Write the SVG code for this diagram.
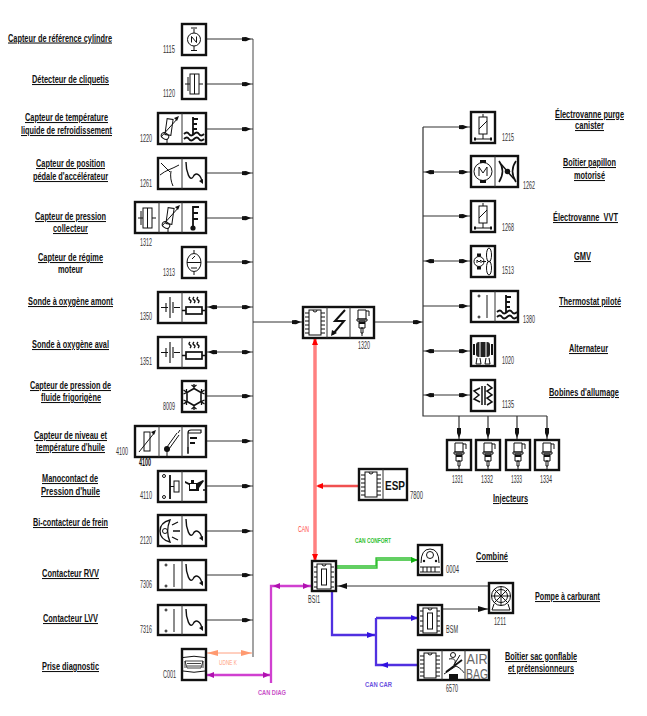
<svg xmlns="http://www.w3.org/2000/svg" width="647" height="716" viewBox="0 0 647 716">
<style>
text{font-family:"Liberation Sans",Arial,sans-serif}
.l{font-size:10.500px;font-weight:bold;fill:#111;text-decoration:underline}
.lp{font-size:10.500px;font-weight:bold;fill:#111}
.n{font-size:10px;fill:#333}
.c{font-size:7px;font-weight:bold}
.b{fill:#fff;stroke:#111;stroke-width:2.400}
.d{fill:none;stroke:#333;stroke-width:1}
.i{fill:none;stroke:#111;stroke-width:1}
.t{fill:none;stroke:#111;stroke-width:1.800}
.k{fill:#111;stroke:none}
.w{fill:none;stroke:#333;stroke-width:1}
.g{fill:none;stroke:#999;stroke-width:1.800}
</style>
<defs>
<path id="ar" d="M-9-1.800L-5-2L0 0L-5 2.200L-9 2Z"/>
<path id="al" d="M9-1.800L5-2L0 0L5 2.200L9 2Z"/>
<path id="ad" d="M-2-10V-5L0 0L2-5V-10Z"/>
<g id="sN" class="i"><circle cx="12" cy="15.500" r="6.500"/><path d="M9.500 18.500v-6l5 6v-6M12 9V5M9 4h6M12 22v4M9 26.500h6"/></g>
<g id="sKnock" class="i"><rect x="8" y="6" width="9" height="20"/><path d="M3 16h5M17 16h4M6 9v14M12.500 6v20"/></g>
<g id="sVar" class="i"><rect x="8" y="6" width="6" height="16" transform="rotate(8 11 14)"/><path d="M3 24L20 5"/><path class="k" d="M21 3l-5 2 3 3z"/><ellipse cx="7" cy="23" rx="4" ry="3" transform="rotate(35 7 23)"/><path d="M9 26v4"/></g>
<g id="sCool" class="i"><path class="t" d="M11 4v18M11 6h5M11 11h4M11 16h4"/><path class="t" d="M2 21q3-3 5 0t5 0t5 0t5 0M2 26q3-3 5 0t5 0t5 0t5 0"/></g>
<g id="sTherm" class="i"><path class="t" d="M11 4v22M11 5h6M11 11h5M11 17h5"/><circle class="k" cx="11" cy="26" r="2.600"/></g>
<g id="sHook"><path d="M4 4C4 14 8 24 11 19C14 13 19 17 20 24" fill="none" stroke="#111" stroke-width="1.400"/><path class="k" d="M21 26l-4-3 4-2z"/></g>
<g id="sPedal" class="i"><path d="M3 5L12 14M2 17C8 12 14 11 21 7M13 13C12 18 13 24 15 28"/></g>
<g id="sLambda" class="i"><path d="M3 15.500h7M16 15.500h6M12 5v21M15 10v11M8 11v9" stroke-width="1.100"/></g>
<g id="sHeat" class="i"><rect x="4" y="15" width="16" height="7" stroke-width="1.700"/><path d="M0 18.500h4M20 18.500h4M8 5q-2 2 0 3t0 3M12 5q-2 2 0 3t0 3M16 5q-2 2 0 3t0 3" stroke-width="1.400"/></g>
<g id="sRev" class="i"><ellipse cx="12" cy="15.500" rx="7" ry="9"/><path d="M5 15.500h14M12 3v3M12 25v3M9 21h6M10 12l3-3"/></g>
<g id="sFrost" class="t"><path d="M12 7.500l7 4v9l-7 4-7-4v-9z" stroke-width="1.600"/><path d="M12 7.500V3M9.500 4l2.500 2 2.500-2M12 24.500V29M9.500 28l2.500-2 2.500 2M5 11.500L1.500 9M1.500 13l3-1.500V8M19 11.500L22.500 9M22.500 13l-3-1.500V8M5 20.500L1.500 23M1.500 19l3 1.500V24M19 20.500L22.500 23M22.500 19l-3 1.500V24" stroke-width="1.300"/></g>
<g id="sVarStr" class="i"><rect x="9" y="6" width="6" height="19"/><path d="M4 26L20 6"/><path class="k" d="M21 4l-5 2 3 3z"/></g>
<g id="sBulb" class="i"><path d="M8 21L18 7M10 23L20 9"/><circle class="k" cx="8" cy="23" r="3"/><path d="M8 25v5M21 4l-2 3"/></g>
<g id="sLevel" class="i"><path d="M6 28V7H19M6 7Q6 4 9 4H19V7" stroke-width="1.200"/><path class="t" d="M8 12h7M8 17h5"/><path d="M6 21v6"/></g>
<g id="sMano" class="i"><circle cx="6" cy="5" r="1.500"/><circle cx="6" cy="26" r="1.500"/><path class="t" d="M12 4v24"/><rect x="16" y="10" width="5" height="11"/><path d="M12 15.500h4"/></g>
<g id="sOil"><path class="k" d="M3 10l4 2h8l6-3 1 1-5 7v3H7v-6L3 12z"/><path d="M8 13h6v5H8z" fill="#fff"/><circle class="k" cx="22" cy="19" r="1"/><path class="k" d="M9 9h3v3H9z"/></g>
<g id="sBrake" class="i"><path d="M12 5C4 7 2 12 2 16s2 9 10 11C9 20 9 12 12 5z" stroke-width="1.300"/><circle cx="7" cy="16" r="2.500"/><path d="M14 10l6-3M15 16h7M14 22l6 3" stroke-width="1.300"/></g>
<g id="sDots" class="i"><circle cx="8" cy="5" r="1"/><circle cx="8" cy="26" r="1"/><path d="M16 4v23" style="stroke:#666;stroke-width:1.500"/></g>
<g id="sPort" class="i"><path d="M1 3.500Q12 1 23 3.500M1 17Q12 19.500 23 17"/><path d="M3 7h18l-2 7H5zM3 7V14M21 7V14M5 9.500h14M5 12h14" stroke-width=".8"/></g>
<g id="sChip" class="i"><rect x="6" y="3" width="12" height="25"/><path d="M2 6h4M2 10h4M2 14h4M2 18h4M2 22h4M2 26h4M18 6h4M18 10h4M18 14h4M18 18h4M18 22h4M18 26h4M10 3a2 2 0 0 0 4 0"/></g>
<g id="sBolt"><path d="M18 3L8 14H17L6 27" fill="none" stroke="#111" stroke-width="2"/><path class="k" d="M4 29l1-6 5 3z"/></g>
<g id="sInj" class="i"><path d="M8 3h8v9h-8zM7 12h10v2h-10zM9 14h6v7h-6zM11 21h2v5h-2zM12 26v3M16 4h3v5"/><path class="k" d="M9 15h6v2H9z"/></g>
<g id="sCoil" class="i"><rect x="8" y="3" width="8" height="17"/><path d="M8 15L16 7M12 3V0M12 20v5M4 25h16"/><path class="k" d="M3 23.500h2v3H3zM19 23.500h2v3h-2z"/></g>
<g id="sMotor" class="i"><circle cx="12" cy="15.500" r="9"/><path d="M8 20v-9l4 6 4-6v9"/><path class="k" d="M9 4h6v3H9zM9 24h6v3H9z"/></g>
<g id="sThrottle" class="i"><path d="M4 5Q11 15 4 26M21 5Q14 15 21 26" stroke-width="1.600"/><path d="M6 8L19 23" stroke-width="1.400"/><circle class="k" cx="12.500" cy="15.500" r="2.800"/></g>
<g id="sFan" class="i"><circle cx="8" cy="15.500" r="5"/><path d="M6 17v-3l2 2 2-2v3M11 15.500h4"/><path class="k" d="M6 7.500h4v3H6zM6 20.500h4v3H6z"/><ellipse cx="18" cy="9" rx="2.500" ry="7"/><ellipse cx="18" cy="22" rx="2.500" ry="7"/></g>
<g id="sAlt"><rect x="5" y="6" width="14" height="15" rx="3" fill="#222"/><path d="M9 6v15M15 6v15M3 8v11M21 8v11" stroke="#fff" stroke-width="1"/><path d="M3 8v11M21 8v11" stroke="#111" stroke-width="2"/><path class="i" d="M6 22l-1 6h5l-1-6M15 22l-1 6h5l-1-6"/></g>
<g id="sIgn" class="t"><path d="M9 8L3 11l5 4-5 4 6 3M11 6v19M14 6v19M16 4l5 4-5 3 5 4-5 3 5 4-5 3" stroke-width="1.500"/></g>
<g id="sGauge" class="i"><circle cx="12" cy="10" r="3.500"/><path d="M3 18Q3 4 12 4T21 18M2 22h20M2 27h20M5 22v5M9 22v5M13 22v5M17 22v5"/><circle class="k" cx="6" cy="16" r="1.200"/><circle class="k" cx="18" cy="16" r="1.200"/></g>
<g id="sPump" class="i"><circle cx="12" cy="13" r="9.500"/><circle cx="12" cy="13" r="6.500"/><path d="M2.500 13h19M12 3.500v19M5 6l14 14M19 6L5 20M5 21l-2 6h18l-2-6"/></g>
<g id="sMod" class="i"><rect x="5" y="3" width="14" height="25"/><rect x="9.500" y="8" width="5" height="16"/><path d="M2 6h3M2 11h3M2 16h3M2 21h3M2 26h3M19 6h3M19 11h3M19 16h3M19 21h3M19 26h3M10 3a2 2 0 0 0 4 0"/></g>
<g id="sBelt" class="i"><circle cx="11" cy="5" r="2.500"/><path d="M7 9C12 8 15 10 12 15L18 5M2 24L14 16C20 19 22 23 22 23"/><path class="t" d="M4 22L20 10"/><path class="k" d="M7 24h9v5H7z"/></g>
<g id="sAir"><text x="12" y="14" text-anchor="middle" style="font-size:15px;fill:#666" textLength="21" lengthAdjust="spacingAndGlyphs">AIR</text><text x="12" y="29" text-anchor="middle" style="font-size:15px;fill:#666" textLength="22" lengthAdjust="spacingAndGlyphs">BAG</text></g>
</defs>

<g id="connectors">
<path class="g" d="M253 39V657"/>
<path class="d" d="M206 39H253M206 84H253M206 129H253M206 173H253M206 218H253M206 262H253M206 307H253M206 352H253M206 396H253M206 441H253M206 486H253M206 531H253M206 575H253M206 620H253"/>
<path class="d" d="M253 322H303M374 322H423"/>
<path class="d" style="stroke-width:1.200" d="M423 127V416H547M423 127H470M423 172H470M423 216H470M423 261H470M423 306H470M423 351H470M423 395H470M459 416V440M488 416V440M517 416V440M547 416V440"/>
<g class="k">
<use href="#ar" x="251" y="39"/><use href="#ar" x="251" y="84"/><use href="#ar" x="251" y="129"/><use href="#ar" x="251" y="173"/><use href="#ar" x="251" y="218"/><use href="#ar" x="251" y="262"/><use href="#ar" x="251" y="307"/><use href="#ar" x="251" y="352"/><use href="#ar" x="251" y="396"/><use href="#ar" x="251" y="441"/><use href="#ar" x="251" y="486"/><use href="#ar" x="251" y="531"/><use href="#ar" x="251" y="575"/><use href="#ar" x="251" y="620"/>
<use href="#al" x="208" y="307"/><use href="#al" x="208" y="352"/>
<use href="#ar" x="301" y="322"/><use href="#ar" x="422" y="322"/>
<use href="#ar" x="468" y="127"/><use href="#ar" x="468" y="172"/><use href="#ar" x="468" y="216"/><use href="#ar" x="468" y="261"/><use href="#ar" x="468" y="306"/><use href="#ar" x="468" y="351"/><use href="#ar" x="468" y="395"/>
<use href="#al" x="425" y="172"/><use href="#al" x="425" y="261"/><use href="#al" x="425" y="351"/><use href="#al" x="425" y="395"/>
<use href="#ad" x="459" y="438"/><use href="#ad" x="488" y="438"/><use href="#ad" x="517" y="438"/><use href="#ad" x="547" y="438"/>
</g>
<path d="M315 338V561" fill="none" stroke="#ff8080" stroke-width="3.500"/>
<path d="M359 486H318" fill="none" stroke="#f05050" stroke-width="2.500"/>
<path d="M315 338l-3 7h6zM315 561l-3-7h6zM316 486l7-3v6z" fill="#f00"/>
<path d="M336 568H377V560H418M336 566H376V558H412" fill="none" stroke="#30c030" stroke-width="1.300"/>
<path d="M418 560l-7-3v6z" fill="#10b010"/>
<path d="M332 591V635H375M376 618V665H418M376 618H418" fill="none" stroke="#5030e0" stroke-width="2.300"/>
<path d="M375 635l-8-3v6zM418 618l-7-3v6zM380 665l8-3v6z" fill="#3010e0"/>
<path d="M206 675H271M271 683V586H312" fill="none" stroke="#d040d0" stroke-width="2.300"/>
<path d="M207 675l7-3v6zM270 675l-7-3v6zM273 586l7-3v6zM310 586l-7-3v6z" fill="#b010b0"/>
<path d="M206 653H252" fill="none" stroke="#ffa080" stroke-width="1"/>
<path d="M207 653l11-3v6zM252 653l-11-3v6z" fill="#ff9a70"/>
<path class="d" d="M337 586H489M442 609H489"/>
<path d="M338 586l9-3v6zM488 609l-10-3v6z" fill="#111"/>
</g>

<g id="n1115"><rect class="b" x="182" y="24" width="24" height="31"/><use href="#sN" x="182" y="24"/></g>
<g id="n1120"><rect class="b" x="182" y="68" width="24" height="31"/><use href="#sKnock" x="182" y="68"/></g>
<g id="n1220"><rect class="b" x="158" y="113" width="48" height="31"/><path class="w" d="M182 113v31"/><use href="#sVar" x="158" y="113"/><use href="#sCool" x="182" y="113"/></g>
<g id="n1261"><rect class="b" x="158" y="158" width="48" height="31"/><path class="w" d="M182 158v31"/><use href="#sPedal" x="158" y="158"/><use href="#sHook" x="182" y="158"/></g>
<g id="n1312"><rect class="b" x="135" y="202" width="71" height="31"/><path class="w" d="M159 202v31M182 202v31"/><use href="#sKnock" x="135" y="202"/><use href="#sVar" x="159" y="202"/><use href="#sTherm" x="182" y="202"/></g>
<g id="n1313"><rect class="b" x="182" y="247" width="24" height="31"/><use href="#sRev" x="182" y="247"/></g>
<g id="n1350"><rect class="b" x="158" y="292" width="48" height="31"/><path class="w" d="M182 292v31"/><use href="#sLambda" x="158" y="292"/><use href="#sHeat" x="182" y="292"/></g>
<g id="n1351"><rect class="b" x="158" y="337" width="48" height="31"/><path class="w" d="M182 337v31"/><use href="#sLambda" x="158" y="337"/><use href="#sHeat" x="182" y="337"/></g>
<g id="n8009"><rect class="b" x="182" y="381" width="24" height="31"/><use href="#sFrost" x="182" y="381"/></g>
<g id="n4100"><rect class="b" x="135" y="426" width="71" height="31"/><path class="w" d="M159 426v31M182 426v31"/><use href="#sVarStr" x="135" y="426"/><use href="#sBulb" x="159" y="426"/><use href="#sLevel" x="182" y="426"/></g>
<g id="n4110"><rect class="b" x="158" y="471" width="48" height="31"/><path class="w" d="M182 471v31"/><use href="#sMano" x="158" y="471"/><use href="#sOil" x="182" y="471"/></g>
<g id="n2120"><rect class="b" x="158" y="515" width="48" height="31"/><path class="w" d="M182 515v31"/><use href="#sBrake" x="158" y="515"/><use href="#sHook" x="182" y="515"/></g>
<g id="n7306"><rect class="b" x="158" y="560" width="48" height="30"/><path class="w" d="M182 560v30"/><use href="#sDots" x="158" y="560"/><use href="#sHook" x="182" y="560"/></g>
<g id="n7316"><rect class="b" x="158" y="605" width="48" height="30"/><path class="w" d="M182 605v30"/><use href="#sDots" x="158" y="605"/><use href="#sHook" x="182" y="605"/></g>
<g id="nC001"><rect class="b" x="182" y="649" width="24" height="31"/><use href="#sPort" x="182" y="654"/></g>
<g id="n1320"><rect class="b" x="303" y="307" width="71" height="31"/><path class="w" d="M327 307v31M350 307v31"/><use href="#sChip" x="303" y="307"/><use href="#sBolt" x="327" y="307"/><use href="#sInj" x="350" y="307"/></g>
<g id="n7800"><rect class="b" x="359" y="469" width="48" height="31"/><path class="w" d="M383 469v31"/><use href="#sChip" x="359" y="469"/><text x="385" y="490" style="font-size:13px;font-weight:bold;fill:#111" textLength="20" lengthAdjust="spacingAndGlyphs">ESP</text></g>
<g id="nBSI"><rect class="b" x="312" y="561" width="24" height="30"/><use href="#sMod" x="312" y="561"/></g>
<g id="nCombine"><rect class="b" x="418" y="545" width="24" height="30"/><use href="#sGauge" x="418" y="545"/></g>
<g id="n1211"><rect class="b" x="489" y="583" width="24" height="30"/><use href="#sPump" x="489" y="583"/></g>
<g id="nBSM"><rect class="b" x="418" y="605" width="24" height="30"/><use href="#sMod" x="418" y="605"/></g>
<g id="n6570"><rect class="b" x="418" y="650" width="71" height="30"/><path class="w" d="M442 650v30M465 650v30"/><use href="#sChip" x="418" y="650"/><use href="#sBelt" x="442" y="650"/><use href="#sAir" x="465" y="650"/></g>
<g id="n1215"><rect class="b" x="471" y="112" width="24" height="31"/><use href="#sCoil" x="471" y="114"/></g>
<g id="n1262"><rect class="b" x="471" y="156" width="47" height="31"/><path class="w" d="M495 156v31"/><use href="#sMotor" x="471" y="156"/><use href="#sThrottle" x="495" y="156"/></g>
<g id="n1268"><rect class="b" x="471" y="201" width="24" height="31"/><use href="#sCoil" x="471" y="203"/></g>
<g id="n1513"><rect class="b" x="471" y="246" width="24" height="31"/><use href="#sFan" x="471" y="246"/></g>
<g id="n1380"><rect class="b" x="471" y="291" width="47" height="31"/><path class="w" d="M495 291v31"/><use href="#sDots" x="471" y="291"/><use href="#sCool" x="495" y="291"/></g>
<g id="n1020"><rect class="b" x="471" y="336" width="24" height="30"/><use href="#sAlt" x="471" y="336"/></g>
<g id="n1135"><rect class="b" x="471" y="380" width="24" height="31"/><use href="#sIgn" x="471" y="380"/></g>
<g id="n1331"><rect class="b" x="447" y="440" width="24" height="30"/><use href="#sInj" x="447" y="440"/></g>
<g id="n1332"><rect class="b" x="476" y="440" width="24" height="30"/><use href="#sInj" x="476" y="440"/></g>
<g id="n1333"><rect class="b" x="506" y="440" width="24" height="30"/><use href="#sInj" x="506" y="440"/></g>
<g id="n1334"><rect class="b" x="535" y="440" width="24" height="30"/><use href="#sInj" x="535" y="440"/></g>

<g id="labels">
<text class="l" x="8" y="41.500" textLength="104" lengthAdjust="spacingAndGlyphs">Capteur de référence cylindre</text>
<text class="l" x="32" y="83" textLength="77" lengthAdjust="spacingAndGlyphs">Détecteur de cliquetis</text>
<text class="l" x="25" y="121" textLength="83" lengthAdjust="spacingAndGlyphs">Capteur de température</text>
<text class="l" x="21" y="134" textLength="91" lengthAdjust="spacingAndGlyphs">liquide de refroidissement</text>
<text class="l" x="36" y="167" textLength="69" lengthAdjust="spacingAndGlyphs">Capteur de position</text>
<text class="l" x="33" y="180" textLength="75" lengthAdjust="spacingAndGlyphs">pédale d'accélérateur</text>
<text class="l" x="35" y="220" textLength="71" lengthAdjust="spacingAndGlyphs">Capteur de pression</text>
<text class="l" x="53" y="232" textLength="35" lengthAdjust="spacingAndGlyphs">collecteur</text>
<text class="l" x="38" y="261" textLength="65" lengthAdjust="spacingAndGlyphs">Capteur de régime</text>
<text class="lp" x="58" y="273" textLength="25" lengthAdjust="spacingAndGlyphs">moteur</text>
<text class="l" x="28" y="305" textLength="85" lengthAdjust="spacingAndGlyphs">Sonde à oxygène amont</text>
<text class="l" x="32" y="348" textLength="77" lengthAdjust="spacingAndGlyphs">Sonde à oxygène aval</text>
<text class="l" x="30" y="389" textLength="81" lengthAdjust="spacingAndGlyphs">Capteur de pression de</text>
<text class="l" x="41" y="401" textLength="60" lengthAdjust="spacingAndGlyphs">fluide frigorigène</text>
<text class="l" x="34" y="439" textLength="73" lengthAdjust="spacingAndGlyphs">Capteur de niveau et</text>
<text class="l" x="36" y="451" textLength="69" lengthAdjust="spacingAndGlyphs">température d'huile</text>
<text class="l" x="42" y="482" textLength="56" lengthAdjust="spacingAndGlyphs">Manocontact de</text>
<text class="l" x="41" y="495" textLength="59" lengthAdjust="spacingAndGlyphs">Pression d'huile</text>
<text class="l" x="33" y="526" textLength="75" lengthAdjust="spacingAndGlyphs">Bi-contacteur de frein</text>
<text class="l" x="42" y="577" textLength="57" lengthAdjust="spacingAndGlyphs">Contacteur RVV</text>
<text class="l" x="43" y="622" textLength="55" lengthAdjust="spacingAndGlyphs">Contacteur LVV</text>
<text class="l" x="42" y="670" textLength="57" lengthAdjust="spacingAndGlyphs">Prise diagnostic</text>
<text class="l" x="555" y="118" textLength="69" lengthAdjust="spacingAndGlyphs">Électrovanne purge</text>
<text class="l" x="575" y="129" textLength="29" lengthAdjust="spacingAndGlyphs">canister</text>
<text class="l" x="563" y="166" textLength="53" lengthAdjust="spacingAndGlyphs">Boîtier papillon</text>
<text class="l" x="574" y="179" textLength="31" lengthAdjust="spacingAndGlyphs">motorisé</text>
<text class="l" x="553" y="221" textLength="65" lengthAdjust="spacingAndGlyphs" xml:space="preserve">Électrovanne  VVT</text>
<text class="l" x="574" y="260" textLength="17" lengthAdjust="spacingAndGlyphs">GMV</text>
<text class="l" x="559" y="305" textLength="62" lengthAdjust="spacingAndGlyphs">Thermostat piloté</text>
<text class="l" x="569" y="352" textLength="39" lengthAdjust="spacingAndGlyphs">Alternateur</text>
<text class="l" x="549" y="396" textLength="70" lengthAdjust="spacingAndGlyphs">Bobines d'allumage</text>
<text class="l" x="493" y="502" textLength="35" lengthAdjust="spacingAndGlyphs">Injecteurs</text>
<text class="l" x="476" y="560" textLength="32" lengthAdjust="spacingAndGlyphs">Combiné</text>
<text class="l" x="535" y="600" textLength="65" lengthAdjust="spacingAndGlyphs">Pompe à carburant</text>
<text class="l" x="505" y="660" textLength="72" lengthAdjust="spacingAndGlyphs">Boîtier sac gonflable</text>
<text class="l" x="508" y="672" textLength="66" lengthAdjust="spacingAndGlyphs">et prétensionneurs</text>

<text class="n" x="163" y="53" textLength="12" lengthAdjust="spacingAndGlyphs">1115</text>
<text class="n" x="163" y="97" textLength="12" lengthAdjust="spacingAndGlyphs">1120</text>
<text class="n" x="140" y="142" textLength="12" lengthAdjust="spacingAndGlyphs">1220</text>
<text class="n" x="140" y="187" textLength="12" lengthAdjust="spacingAndGlyphs">1261</text>
<text class="n" x="140" y="246" textLength="12" lengthAdjust="spacingAndGlyphs">1312</text>
<text class="n" x="163" y="276" textLength="12" lengthAdjust="spacingAndGlyphs">1313</text>
<text class="n" x="140" y="320" textLength="12" lengthAdjust="spacingAndGlyphs">1350</text>
<text class="n" x="140" y="365" textLength="12" lengthAdjust="spacingAndGlyphs">1351</text>
<text class="n" x="163" y="410" textLength="12" lengthAdjust="spacingAndGlyphs">8009</text>
<text class="n" x="116" y="455" textLength="12" lengthAdjust="spacingAndGlyphs">4100</text>
<text class="n" x="139" y="466" textLength="12" lengthAdjust="spacingAndGlyphs" style="font-weight:bold;fill:#111">4100</text>
<text class="n" x="140" y="499" textLength="12" lengthAdjust="spacingAndGlyphs">4110</text>
<text class="n" x="140" y="544" textLength="12" lengthAdjust="spacingAndGlyphs">2120</text>
<text class="n" x="140" y="588" textLength="12" lengthAdjust="spacingAndGlyphs">7306</text>
<text class="n" x="140" y="633" textLength="12" lengthAdjust="spacingAndGlyphs">7316</text>
<text class="n" x="163" y="678" textLength="13" lengthAdjust="spacingAndGlyphs">C001</text>
<text class="n" x="358" y="349" textLength="12" lengthAdjust="spacingAndGlyphs">1320</text>
<text class="n" x="410" y="499" textLength="13" lengthAdjust="spacingAndGlyphs">7800</text>
<text class="n" x="308" y="603" textLength="12" lengthAdjust="spacingAndGlyphs">BSI1</text>
<text class="n" x="446" y="573" textLength="13" lengthAdjust="spacingAndGlyphs">0004</text>
<text class="n" x="446" y="633" textLength="12" lengthAdjust="spacingAndGlyphs">BSM</text>
<text class="n" x="494" y="625" textLength="12" lengthAdjust="spacingAndGlyphs">1211</text>
<text class="n" x="446" y="692" textLength="12" lengthAdjust="spacingAndGlyphs">6570</text>
<text class="n" x="502" y="141" textLength="12" lengthAdjust="spacingAndGlyphs">1215</text>
<text class="n" x="523" y="189" textLength="12" lengthAdjust="spacingAndGlyphs">1262</text>
<text class="n" x="502" y="231" textLength="12" lengthAdjust="spacingAndGlyphs">1268</text>
<text class="n" x="502" y="274" textLength="12" lengthAdjust="spacingAndGlyphs">1513</text>
<text class="n" x="523" y="323" textLength="12" lengthAdjust="spacingAndGlyphs">1380</text>
<text class="n" x="502" y="364" textLength="12" lengthAdjust="spacingAndGlyphs">1020</text>
<text class="n" x="502" y="408" textLength="12" lengthAdjust="spacingAndGlyphs">1135</text>
<text class="n" x="452" y="483" textLength="11" lengthAdjust="spacingAndGlyphs">1331</text>
<text class="n" x="481" y="483" textLength="12" lengthAdjust="spacingAndGlyphs">1332</text>
<text class="n" x="511" y="483" textLength="11" lengthAdjust="spacingAndGlyphs">1333</text>
<text class="n" x="540" y="483" textLength="12" lengthAdjust="spacingAndGlyphs">1334</text>

<text class="c" x="298" y="532" fill="#f44" style="font-size:8.500px;font-weight:normal" textLength="11" lengthAdjust="spacingAndGlyphs">CAN</text>
<text class="c" x="355" y="543" fill="#30c030" textLength="36" lengthAdjust="spacingAndGlyphs">CAN CONFORT</text>
<text class="c" x="365" y="687" fill="#6a50e0" textLength="27" lengthAdjust="spacingAndGlyphs">CAN CAR</text>
<text class="c" x="258" y="695" fill="#c850c8" textLength="28" lengthAdjust="spacingAndGlyphs">CAN DIAG</text>
<text class="c" x="219" y="665" fill="#ffa080" style="font-weight:normal" textLength="18" lengthAdjust="spacingAndGlyphs">UDNE K</text>
</g>
</svg>
